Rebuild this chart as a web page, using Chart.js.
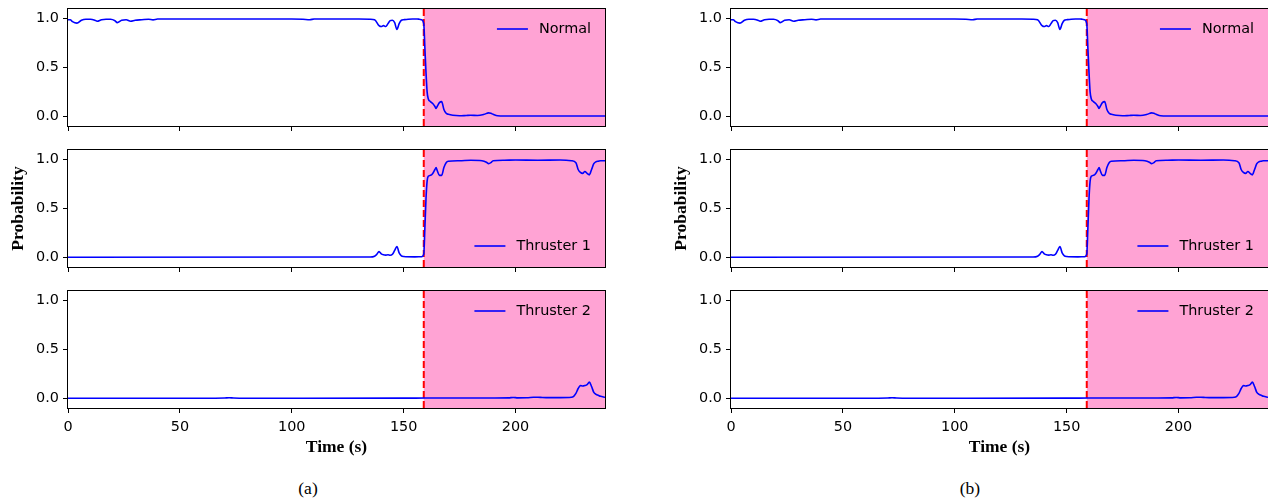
<!DOCTYPE html>
<html>
<head>
<meta charset="utf-8">
<script src="https://cdn.jsdelivr.net/npm/chart.js@4.4.1/dist/chart.umd.min.js"></script>
<style>
html, body { margin: 0; padding: 0; background: #fff; width: 1268px; height: 502px; overflow: hidden; }
canvas { position: absolute; }
.caption { position: absolute; font-family: "Liberation Serif", serif; font-size: 17.5px; line-height: 20px; color: #000; transform: translateX(-50%); }
</style>
</head>
<body>
<canvas id="a0"></canvas>
<canvas id="a1"></canvas>
<canvas id="a2"></canvas>
<canvas id="b0"></canvas>
<canvas id="b1"></canvas>
<canvas id="b2"></canvas>
<div class="caption" style="left:308px; top:478px">(a)</div>
<div class="caption" style="left:970px; top:478px">(b)</div>
<script>
// time axis / ticks
const xTicks = [0, 50, 100, 150, 200];
const yTicks = [0, 0.5, 1.0];
const timeMax = 240;
const faultTime = 159;

// class probabilities
const normalTime = [0, 1, 2, 4, 6, 8, 10, 12, 13, 15, 17, 19, 21, 22, 24, 26, 28, 30, 33, 36, 38, 40, 45, 50, 55, 60, 65, 70, 75, 80, 85, 90, 95, 100, 105, 108, 110, 115, 120, 125, 130, 135, 137, 139, 140, 141, 142, 143, 144, 145, 146, 147, 148, 149, 150, 152, 154, 156, 157, 158, 159, 159.5, 160, 160.5, 161, 162, 163, 164, 164.5, 165, 166, 167, 168, 169, 170, 172, 175, 178, 180, 183, 186, 188, 189, 190, 192, 195, 200, 210, 220, 230, 240];
const normalProb = [0.99, 0.99, 0.97, 0.955, 0.985, 0.995, 0.995, 0.985, 0.975, 0.99, 0.995, 0.995, 0.98, 0.96, 0.985, 0.99, 0.975, 0.985, 0.99, 0.995, 0.988, 0.997, 0.998, 0.997, 0.998, 0.998, 0.997, 0.998, 0.997, 0.998, 0.998, 0.998, 0.997, 0.998, 0.995, 0.99, 0.997, 0.998, 0.998, 0.998, 0.997, 0.995, 0.99, 0.93, 0.92, 0.93, 0.92, 0.95, 0.98, 0.985, 0.96, 0.89, 0.95, 0.985, 0.99, 0.995, 0.997, 0.997, 0.995, 0.99, 0.95, 0.7, 0.45, 0.25, 0.18, 0.15, 0.13, 0.1, 0.08, 0.1, 0.14, 0.15, 0.07, 0.03, 0.02, 0.01, 0.005, 0.008, 0.01, 0.008, 0.02, 0.035, 0.03, 0.02, 0.005, 0.003, 0.003, 0.003, 0.003, 0.003, 0.003];

const thruster1Time = [0, 135, 137, 138, 139, 140, 141, 142, 143, 144, 145, 146, 147, 148, 149, 150, 155, 158, 159, 159.5, 160, 160.5, 161, 162, 163, 164, 164.5, 165, 166, 167, 168, 169, 170, 175, 180, 185, 187, 188, 189, 190, 195, 200, 210, 220, 225, 227, 228, 229, 230, 231, 232, 233, 234, 235, 236, 237, 238, 240];
const thruster1Prob = [0.0, 0.002, 0.01, 0.03, 0.058, 0.035, 0.025, 0.022, 0.025, 0.02, 0.03, 0.07, 0.11, 0.045, 0.015, 0.008, 0.004, 0.005, 0.03, 0.3, 0.6, 0.78, 0.83, 0.84, 0.86, 0.9, 0.92, 0.89, 0.84, 0.84, 0.92, 0.97, 0.985, 0.99, 0.995, 0.99, 0.975, 0.96, 0.97, 0.99, 0.995, 0.997, 0.995, 0.997, 0.99, 0.97, 0.9, 0.87, 0.86, 0.88, 0.86, 0.845, 0.9, 0.96, 0.98, 0.985, 0.99, 0.99];

const thruster2Time = [0, 60, 70, 72, 74, 80, 150, 160, 190, 197, 199, 201, 205, 208, 210, 212, 215, 220, 225, 226, 227, 228, 229, 230, 231, 232, 233, 234, 235, 236, 237, 238, 240];
const thruster2Prob = [0.0, 0.0, 0.002, 0.005, 0.002, 0.0, 0.001, 0.002, 0.003, 0.004, 0.008, 0.004, 0.005, 0.01, 0.011, 0.008, 0.006, 0.006, 0.01, 0.02, 0.05, 0.1, 0.13, 0.125, 0.13, 0.14, 0.165, 0.12, 0.06, 0.04, 0.03, 0.02, 0.01];

const series = [
    { label: "Normal", time: normalTime, prob: normalProb, legend: "top" },
    { label: "Thruster 1", time: thruster1Time, prob: thruster1Prob, legend: "bottom" },
    { label: "Thruster 2", time: thruster2Time, prob: thruster2Prob, legend: "top" },
];

const shadeColor = "rgb(255, 163, 212)";
const tickFont = { family: "DejaVu Sans", size: 14.4 };
const labelFont = { family: "Liberation Serif", size: 17.5, weight: "bold" };

const plotWidth = 537;
const plotHeight = 117;
const plotTops = [9, 150, 291];
const panelLefts = { a: 68, b: 731 };
const yAxisWidth = 60;
const padTop = 9;
const padRight = 3;

// pink fault window, dashed onset line, box frame and inside legend
const faultShade = {
    id: "faultShade",
    beforeDatasetsDraw(chart) {
        const { ctx, chartArea: a, scales: { x } } = chart;
        const xf = x.getPixelForValue(faultTime);
        ctx.save();
        ctx.fillStyle = shadeColor;
        ctx.fillRect(xf, a.top, a.right - xf, a.bottom - a.top);
        ctx.strokeStyle = "#ff0000";
        ctx.lineWidth = 2;
        ctx.setLineDash([7, 3]);
        ctx.beginPath();
        ctx.moveTo(xf, a.top);
        ctx.lineTo(xf, a.bottom);
        ctx.stroke();
        ctx.restore();
    },
    afterDraw(chart) {
        const { ctx, chartArea: a } = chart;
        ctx.save();
        ctx.strokeStyle = "#000";
        ctx.lineWidth = 1;
        ctx.strokeRect(Math.round(a.left) - 0.5, Math.round(a.top) - 0.5, Math.round(a.right - a.left) + 1, Math.round(a.bottom - a.top) + 1);

        const ds = chart.data.datasets[0];
        const place = chart.options.plugins.faultShade.place;
        ctx.font = `${tickFont.size}px "${tickFont.family}"`;
        const textRight = a.right - 14;
        const textLeft = textRight - ctx.measureText(ds.label).width;
        const y = place === "top" ? a.top + 20 : a.bottom - 21;
        ctx.strokeStyle = ds.borderColor;
        ctx.lineWidth = 1.6;
        ctx.beginPath();
        ctx.moveTo(textLeft - 42, y);
        ctx.lineTo(textLeft - 11, y);
        ctx.stroke();
        ctx.fillStyle = "#000";
        ctx.textBaseline = "middle";
        ctx.fillText(ds.label, textLeft, y);
        ctx.restore();
    },
};

function makeChart(id, row, left) {
    const s = series[row];
    const last = row === series.length - 1;
    const xHeight = last ? 50 : 8;
    const canvas = document.getElementById(id);
    canvas.width = yAxisWidth + plotWidth + padRight;
    canvas.height = padTop + plotHeight + xHeight;
    canvas.style.left = (left - yAxisWidth) + "px";
    canvas.style.top = (plotTops[row] - padTop) + "px";

    return new Chart(canvas, {
        type: "line",
        data: {
            datasets: [{
                label: s.label,
                data: s.time.map((t, i) => ({ x: t, y: s.prob[i] })),
                borderColor: "#0000ff",
                borderWidth: 1.6,
                pointRadius: 0,
                cubicInterpolationMode: "monotone",
                fill: false,
            }],
        },
        options: {
            responsive: false,
            animation: false,
            events: [],
            layout: { padding: { top: padTop, right: padRight, left: 0, bottom: 0 } },
            plugins: {
                legend: { display: false },
                tooltip: { enabled: false },
                faultShade: { place: s.legend },
            },
            scales: {
                x: {
                    type: "linear",
                    min: 0,
                    max: timeMax,
                    afterBuildTicks: (scale) => { scale.ticks = xTicks.map((v) => ({ value: v })); },
                    afterFit: (scale) => {
                        scale.height = xHeight;
                        scale.paddingLeft = 0;
                        scale.paddingRight = 0;
                    },
                    border: { display: false },
                    grid: { drawOnChartArea: false, tickLength: 5, color: "#000" },
                    ticks: { display: last, font: tickFont, color: "#000", padding: 6, maxRotation: 0, callback: (v) => String(v) },
                    title: { display: last, text: "Time (s)", font: labelFont, color: "#000", padding: 0 },
                },
                y: {
                    min: -0.1,
                    max: 1.1,
                    afterBuildTicks: (scale) => { scale.ticks = yTicks.map((v) => ({ value: v })); },
                    afterFit: (scale) => {
                        scale.width = yAxisWidth;
                        scale.paddingTop = 0;
                        scale.paddingBottom = 0;
                    },
                    border: { display: false },
                    grid: { drawOnChartArea: false, tickLength: 5, color: "#000" },
                    ticks: { font: tickFont, color: "#000", padding: 4, callback: (v) => v.toFixed(1) },
                    title: { display: row === 1, text: "Probability", font: labelFont, color: "#000", padding: 0 },
                },
            },
        },
        plugins: [faultShade],
    });
}

["a", "b"].forEach((panel) => {
    series.forEach((s, row) => makeChart(panel + row, row, panelLefts[panel]));
});
</script>
</body>
</html>
